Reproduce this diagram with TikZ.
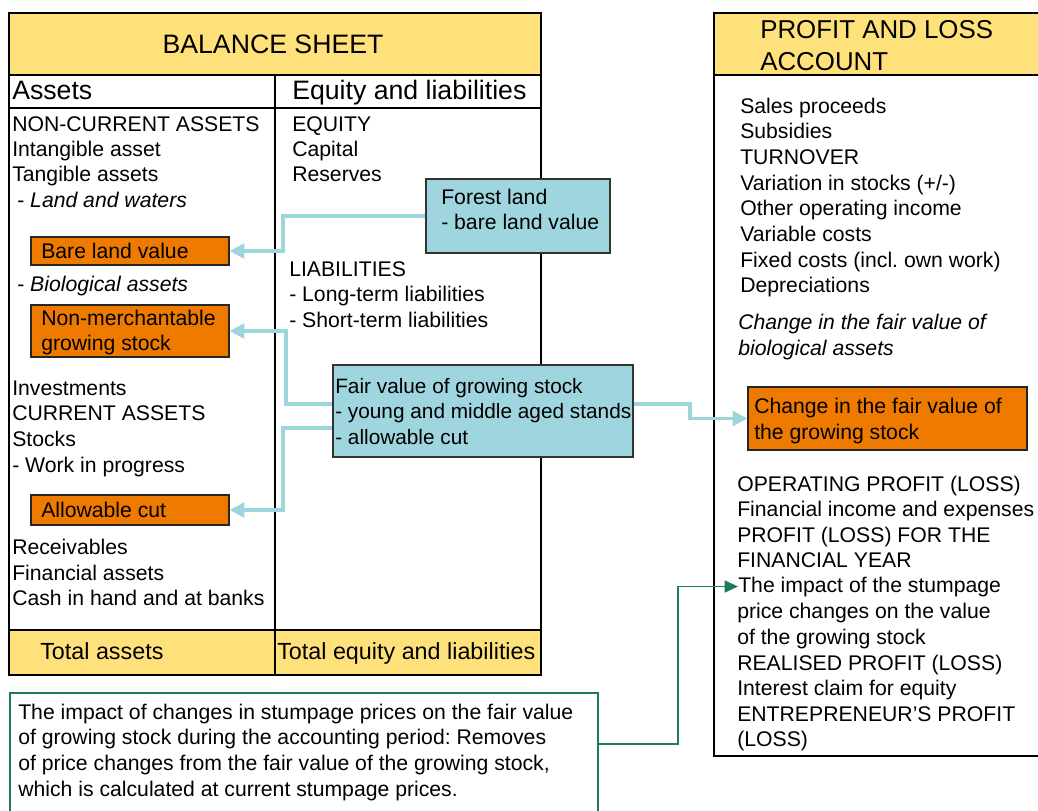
\documentclass[tikz,border=0pt]{standalone}
\usepackage{fontspec}
\setmainfont{Liberation Sans}
\usetikzlibrary{arrows.meta,calc}
\definecolor{ylw}{HTML}{FFE17B}
\definecolor{org}{HTML}{EE7A00}
\definecolor{lblue}{HTML}{9FD5DE}
\definecolor{arrblue}{HTML}{9ED4DB}
\definecolor{grn}{HTML}{1E7B62}
\frenchspacing
\tikzset{
  txt/.style={anchor=base west, inner sep=0pt, font=\fontsize{15.9}{19}\selectfont},
  txtb/.style={anchor=base west, inner sep=0pt, font=\fontsize{15.6}{19}\selectfont},
  ttl/.style={anchor=base west, inner sep=0pt, font=\fontsize{20}{24}\selectfont},
  ttlb/.style={anchor=base west, inner sep=0pt, font=\fontsize{19.4}{24}\selectfont},
  tot/.style={anchor=base west, inner sep=0pt, font=\fontsize{17.5}{21}\selectfont},
  frame/.style={draw=black, line width=1.3pt},
  orangebox/.style={draw=black!85, line width=1pt, fill=org, inner sep=0pt},
  bluebox/.style={draw=black!80, line width=1pt, fill=lblue, inner sep=0pt},
  greenbox/.style={draw=grn, line width=1.1pt, inner sep=0pt},
  barrow/.style={draw=arrblue, line width=2.6pt, -{Triangle[length=11pt,width=11pt]}},
  garrow/.style={draw=grn, line width=1.2pt, -{Triangle[length=10pt,width=9pt]}}
}
\begin{document}
\begin{tikzpicture}[x=0.75pt,y=-0.75pt]
\useasboundingbox (0,0) rectangle (1038,810);
\clip (0,0) rectangle (1038,810);

% ---------- Balance sheet ----------
\fill[ylw] (9,13) rectangle (541,75);
\fill[ylw] (9,630) rectangle (541,675);
\draw[frame] (9,13) rectangle (541,675);
\draw[frame] (9,75) -- (541,75);
\draw[frame] (9,108) -- (541,108);
\draw[frame] (9,630) -- (541,630);
\draw[frame] (275,75) -- (275,675);

\node[ttl, anchor=base] (bstitle) at (273,53) {BALANCE SHEET};
\node[ttl] (hassets) at (12,99) {Assets};
\node[ttl] (hequity) at (292,99) {Equity and liabilities};
\node[tot] (totA) at (40,659) {Total assets};
\node[tot] (totE) at (277,659) {Total equity and liabilities};

\foreach \y/\t [count=\i] in {131/{NON-CURRENT ASSETS}, 156/{Intangible asset}, 181/{Tangible assets},
  395/{Investments}, 420/{CURRENT ASSETS}, 446/{Stocks}, 472/{- Work in progress},
  554/{Receivables}, 580/{Financial assets}, 605/{Cash in hand and at banks}}
  \node[txt] (la\i) at (12,\y) {\t};
\node[txt] (lland) at (17,207) {- \textit{Land and waters}};
\node[txt] (lbio) at (17,291) {- \textit{Biological assets}};

\foreach \y/\t [count=\i] in {131/{EQUITY}, 156/{Capital}, 181/{Reserves}}
  \node[txt] (re\i) at (292,\y) {\t};
\foreach \y/\t [count=\i] in {276/{LIABILITIES}, 301/{- Long-term liabilities}, 327/{- Short-term liabilities}}
  \node[txt] (rl\i) at (289,\y) {\t};

% orange boxes in the balance sheet
\node[orangebox, minimum width=148.5pt, minimum height=21pt] (bare) at (130,251) {};
\node[txt] (baret) at (41,258) {Bare land value};
\node[orangebox, minimum width=148.5pt, minimum height=39pt] (nonm) at (130,331) {};
\node[txt] (nonmt1) at (41,325) {Non-merchantable};
\node[txt] (nonmt2) at (41,350) {growing stock};
\node[orangebox, minimum width=148.5pt, minimum height=22.5pt] (allow) at (130,510) {};
\node[txt] (allowt) at (41,517) {Allowable cut};

% blue boxes
\node[bluebox, minimum width=138pt, minimum height=55.5pt] (forest) at (518,216) {};
\node[txt] (forestt1) at (441,204) {Forest land};
\node[txt] (forestt2) at (441,229) {- bare land value};
\node[bluebox, minimum width=225pt, minimum height=69pt] (fv) at (483,411) {};
\node[txtb] (fvt1) at (335,393) {Fair value of growing stock};
\node[txtb] (fvt2) at (335,418) {- young and middle aged stands};
\node[txtb] (fvt3) at (335,444) {- allowable cut};

% ---------- Profit and loss account ----------
\fill[ylw] (714,13) rectangle (1080,75);
\draw[frame] (714,13) rectangle (1080,756);
\draw[frame] (714,75) -- (1080,75);
\node[ttlb] (plt1) at (760,38) {PROFIT AND LOSS};
\node[ttlb] (plt2) at (760,70) {ACCOUNT};

\foreach \y/\t [count=\i] in {113/{Sales proceeds}, 138/{Subsidies}, 164/{TURNOVER},
  190/{Variation in stocks (+/-)}, 215/{Other operating income}, 241/{Variable costs},
  267/{Fixed costs (incl. own work)}, 292/{Depreciations}}
  \node[txt] (pa\i) at (740,\y) {\t};
\node[txt] (pi1) at (738,329) {\textit{Change in the fair value of}};
\node[txt] (pi2) at (738,355) {\textit{biological assets}};

\node[orangebox, minimum width=209.25pt, minimum height=47.25pt] (cgs) at (887.5,418.5) {};
\node[txt] (cgst1) at (754,413) {Change in the fair value of};
\node[txt] (cgst2) at (754,439) {the growing stock};

\foreach \y/\t [count=\i] in {491/{OPERATING PROFIT (LOSS)}, 516/{Financial income and expenses},
  542/{PROFIT (LOSS) FOR THE}, 567/{FINANCIAL YEAR}}
  \node[txt] (pb\i) at (737,\y) {\t};
\node[txt] (impact) at (738,592) {The impact of the stumpage};
\foreach \y/\t [count=\i] in {618/{price changes on the value}, 644/{of the growing stock},
  670/{REALISED PROFIT (LOSS)}, 695/{Interest claim for equity},
  721/{ENTREPRENEUR’S PROFIT}, 746/{(LOSS)}}
  \node[txt] (pc\i) at (737,\y) {\t};

% ---------- green note box ----------
\node[greenbox, minimum width=441pt, minimum height=155.25pt] (green) at (304,796.5) {};
\foreach \y/\t [count=\i] in {719/{The impact of changes in stumpage prices on the fair value},
  744/{of growing stock during the accounting period: Removes},
  770/{of price changes from the fair value of the growing stock,},
  796/{which is calculated at current stumpage prices.}}
  \node[txt] (gt\i) at (18,\y) {\t};

% ---------- connectors ----------
\coordinate (k1) at (283,0);
\coordinate (k2) at (286,0);
\coordinate (k4) at (690,0);
\coordinate (k5) at (678,0);
\draw[barrow] (forest.west) -- (forest.west -| k1) |- (bare.east);
\coordinate (f1) at ($(fv.west)+(0,-7)$);
\coordinate (f2) at ($(fv.west)+(0,17)$);
\coordinate (f3) at ($(fv.east)+(0,-7)$);
\draw[barrow] (f1) -- (f1 -| k2) |- (nonm.east);
\draw[barrow] (f2) -- (f2 -| k1) |- (allow.east);
\draw[barrow] (f3) -- (f3 -| k4) |- (cgs.west);
\coordinate (g1) at ($(green.north east)+(0,52)$);
\draw[garrow] (g1) -- (g1 -| k5) |- (impact.west);
\end{tikzpicture}
\end{document}
